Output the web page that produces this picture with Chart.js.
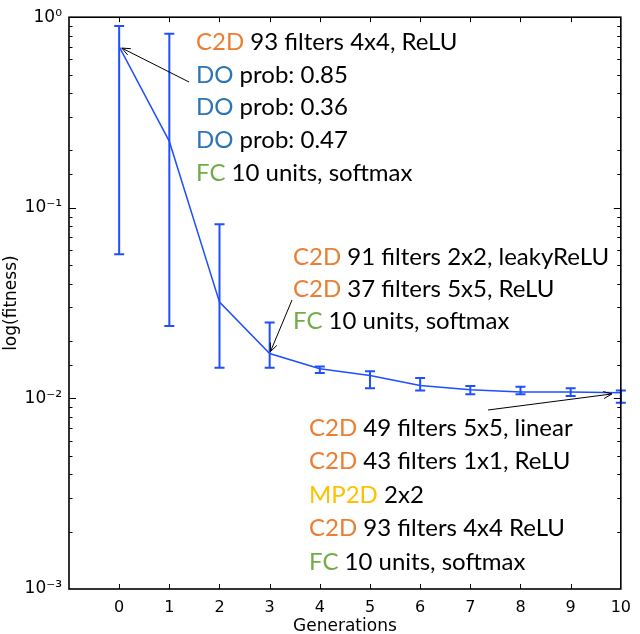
<!DOCTYPE html>
<html>
<head>
<meta charset="utf-8">
<script src="https://cdn.jsdelivr.net/npm/chart.js@4/dist/chart.umd.min.js"></script>
<style>
  html, body { margin: 0; padding: 0; background: #fff; }
</style>
</head>
<body>
<canvas id="myChart" width="640" height="634"></canvas>
<script>
// values
const generations = [0, 1, 2, 3, 4, 5, 6, 7, 8, 9, 10];
const fitnessMean = [0.70, 0.223, 0.032, 0.0172, 0.0143, 0.0132, 0.0117, 0.0111, 0.0108, 0.0108, 0.0107];
const fitnessHigh = [0.90, 0.82, 0.082, 0.025, 0.0147, 0.0139, 0.0128, 0.0116, 0.0115, 0.0113, 0.0110];
const fitnessLow = [0.057, 0.024, 0.0145, 0.0145, 0.0136, 0.0113, 0.0110, 0.0105, 0.0105, 0.0103, 0.0095];

const layerColors = { C2D: '#ED7D31', DO: '#2E75B6', FC: '#70AD47', MP2D: '#FFC000' };

const notesGen0 = [
  ['C2D', '93 filters 4x4, ReLU'],
  ['DO', 'prob: 0.85'],
  ['DO', 'prob: 0.36'],
  ['DO', 'prob: 0.47'],
  ['FC', '10 units, softmax'],
];
const notesGen3 = [
  ['C2D', '91 filters 2x2, leakyReLU'],
  ['C2D', '37 filters 5x5, ReLU'],
  ['FC', '10 units, softmax'],
];
const notesGen10 = [
  ['C2D', '49 filters 5x5, linear'],
  ['C2D', '43 filters 1x1, ReLU'],
  ['MP2D', '2x2'],
  ['C2D', '93 filters 4x4 ReLU'],
  ['FC', '10 units, softmax'],
];

const lineBlue = '#1f4fff';
const supMap = { '-': '\u207B', 0: '\u2070', 1: '\u00B9', 2: '\u00B2', 3: '\u00B3' };
const tickFont = { family: 'DejaVu Sans', size: 16 };
const titleFont = { family: 'DejaVu Sans', size: 17 };

const isDecade = (v) => Math.abs(Math.log10(v) - Math.round(Math.log10(v))) < 1e-6;

const drawArrow = (ctx, x0, y0, x1, y1, shrink) => {
  const ang = Math.atan2(y1 - y0, x1 - x0);
  const tx = x1 - shrink * Math.cos(ang);
  const ty = y1 - shrink * Math.sin(ang);
  ctx.beginPath();
  ctx.moveTo(x0, y0);
  ctx.lineTo(tx, ty);
  ctx.moveTo(tx - 9 * Math.cos(ang - 0.4), ty - 9 * Math.sin(ang - 0.4));
  ctx.lineTo(tx, ty);
  ctx.lineTo(tx - 9 * Math.cos(ang + 0.4), ty - 9 * Math.sin(ang + 0.4));
  ctx.stroke();
};

const drawNotes = (ctx, notes, x, y, step) => {
  notes.forEach(([layer, text], i) => {
    const yy = y + i * step;
    ctx.fillStyle = layerColors[layer];
    ctx.fillText(layer, x, yy);
    const w = ctx.measureText(layer + ' ').width;
    ctx.fillStyle = '#000';
    ctx.fillText(text, x + w, yy);
  });
};

const errorBars = {
  id: 'errorBars',
  afterDatasetsDraw(chart) {
    const { ctx, scales: { x, y } } = chart;
    ctx.save();
    ctx.strokeStyle = lineBlue;
    ctx.lineWidth = 2;
    generations.forEach((g, i) => {
      const px = x.getPixelForValue(g);
      const top = y.getPixelForValue(fitnessHigh[i]);
      const bot = y.getPixelForValue(fitnessLow[i]);
      ctx.beginPath();
      ctx.moveTo(px, top);
      ctx.lineTo(px, bot);
      ctx.moveTo(px - 5, top);
      ctx.lineTo(px + 5, top);
      ctx.moveTo(px - 5, bot);
      ctx.lineTo(px + 5, bot);
      ctx.stroke();
    });
    ctx.restore();
  },
};

// matplotlib style frame with inward ticks
const frame = {
  id: 'frame',
  afterDraw(chart) {
    const { ctx, chartArea: a, scales: { x, y } } = chart;
    ctx.save();
    ctx.strokeStyle = '#000';
    ctx.lineWidth = 1;
    x.ticks.forEach((t) => {
      const px = Math.round(x.getPixelForValue(t.value)) + 0.5;
      if (px <= a.left + 1 || px >= a.right - 1) return;
      ctx.beginPath();
      ctx.moveTo(px, a.bottom);
      ctx.lineTo(px, a.bottom - 5);
      ctx.moveTo(px, a.top);
      ctx.lineTo(px, a.top + 5);
      ctx.stroke();
    });
    y.ticks.forEach((t) => {
      const py = Math.round(y.getPixelForValue(t.value)) + 0.5;
      if (py <= a.top + 1 || py >= a.bottom - 1) return;
      const len = isDecade(t.value) ? 7 : 3.5;
      ctx.beginPath();
      ctx.moveTo(a.left, py);
      ctx.lineTo(a.left + len, py);
      ctx.moveTo(a.right, py);
      ctx.lineTo(a.right - len, py);
      ctx.stroke();
    });
    ctx.lineWidth = 1.6;
    ctx.strokeRect(a.left, a.top, a.right - a.left, a.bottom - a.top);
    ctx.restore();
  },
};

const notes = {
  id: 'notes',
  afterDraw(chart) {
    const { ctx, scales: { x, y } } = chart;
    const pt = (i) => [x.getPixelForValue(generations[i]), y.getPixelForValue(fitnessMean[i])];
    ctx.save();
    ctx.font = '24px Lato';
    ctx.textBaseline = 'middle';
    drawNotes(ctx, notesGen0, 196, 42, 32.8);
    drawNotes(ctx, notesGen3, 293, 257, 32);
    drawNotes(ctx, notesGen10, 309, 428, 33.5);
    ctx.strokeStyle = '#000';
    ctx.lineWidth = 1;
    drawArrow(ctx, 189, 82, ...pt(0), 3);
    drawArrow(ctx, 292, 300, ...pt(3), 2);
    drawArrow(ctx, 488, 410, ...pt(10), 9);
    ctx.restore();
  },
};

const chart = new Chart('myChart', {
  type: 'line',
  data: {
    datasets: [
      {
        data: generations.map((g, i) => ({ x: g, y: fitnessMean[i] })),
        borderColor: lineBlue,
        borderWidth: 1.5,
        pointRadius: 0,
        fill: false,
        tension: 0,
      },
    ],
  },
  options: {
    responsive: false,
    animation: false,
    devicePixelRatio: 1,
    layout: { padding: { top: 13, right: 12, bottom: 0, left: 0 } },
    plugins: { legend: { display: false }, tooltip: { enabled: false } },
    scales: {
      x: {
        type: 'linear',
        min: -1,
        max: 10,
        grid: { display: false, drawTicks: false },
        border: { display: false },
        ticks: {
          stepSize: 1,
          autoSkip: false,
          maxRotation: 0,
          padding: 9,
          color: '#000',
          font: tickFont,
          callback: (v) => (v < 0 ? '' : v),
        },
        title: { display: true, text: 'Generations', color: '#000', font: titleFont, padding: { top: 0, bottom: -3 } },
        afterFit: (scale) => { scale.height = 45; },
      },
      y: {
        type: 'logarithmic',
        min: 0.001,
        max: 1,
        grid: { display: false, drawTicks: false },
        border: { display: false },
        ticks: {
          autoSkip: false,
          padding: 7,
          color: '#000',
          font: { family: 'DejaVu Sans', size: 17 },
          callback: (v) => {
            if (!isDecade(v)) return '';
            const p = String(Math.round(Math.log10(v)));
            return '10' + p.split('').map((c) => supMap[c]).join('');
          },
        },
        title: { display: true, text: 'log(fitness)', color: '#000', font: titleFont, padding: { top: 1, bottom: 0 } },
        afterFit: (scale) => { scale.width = 69; },
      },
    },
  },
  plugins: [errorBars, frame, notes],
});
</script>
</body>
</html>
